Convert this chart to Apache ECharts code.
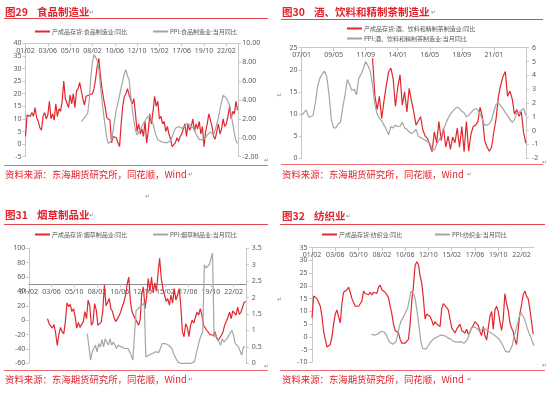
<!DOCTYPE html>
<html><head><meta charset="utf-8">
<script src="https://cdn.jsdelivr.net/npm/echarts@6/dist/echarts.min.js"></script>
<style>html,body{margin:0;padding:0;background:#fff}#c{width:550px;height:393px}</style>
</head><body><div id="c"></div>
<script>
// ---------- data (monthly categories, values sampled every 2 months) ----------
const titles = [['图29','食品制造业'],['图30','酒、饮料和精制茶制造业'],['图31','烟草制品业'],['图32','纺织业']];
const sourceText = '资料来源：东海期货研究所，同花顺，Wind';
const legendNames = [
  ['产成品存货:食品制造业:同比','PPI:食品制造业:当月同比'],
  ['产成品存货:酒、饮料和精制茶制造业:同比','PPI:酒、饮料和精制茶制造业:当月同比'],
  ['产成品存货:烟草制品业:同比','PPI:烟草制品业:当月同比'],
  ['产成品存货:纺织业:同比','PPI:纺织业:当月同比']
];
const catsStartA = [2001, 2], catsCountA = 268;   // 01/02 .. 23/05
const catsStartB = [2007, 1], catsCountB = 197;   // 07/01 .. 23/05
const stepMonths = 2;

// 图29
const foodInvStart = '01/02';
const foodInv = [3,11.5,12,11,12.5,11,14.5,10.5,9,6.5,
 5.5,11,12.5,10,11.5,17,10,12,9.5,16,
 11,14,13,17,25,18,17.5,14.5,19.5,16,
 20,14.5,21,22,24.5,21,18,15.5,19,19.5,
 19.5,20,20,22,26,31,34,27,22,18,
 14.5,10.5,10,9.5,0.5,3,3,2.5,0.5,-1,
 8,15,19,20,22,19.5,20,16,18,12,
 5,8,4,6,3,9,0.5,5,12,8,
 13,19,15,17,10,11,8,9,5,7,
 4,2,-1,-0.5,0.5,2.5,1,3,4,6,
 8,3,8,5.5,7,10,5,8,6,9,
 4,7,-1,5,8,12,12,7,3,2,
 5,8,4,6,10,7,8,11,15,10,
 13,12,17,13.5];
const foodPpiStart = '06/12';
const foodPpi = [1.7,1.9,2.1,2.3,2.6,4.0,6.5,8.0,8.8,8.9,
 8.2,7.3,5.5,4.0,2.5,1.2,0.0,-0.6,-0.7,-0.3,
 0.8,2.0,3.0,3.7,4.5,5.3,6.0,6.8,7.2,6.5,
 6.2,4.5,3.0,1.8,0.8,0.3,0.6,0.9,1.2,1.5,
 1.8,2.1,2.3,2.4,2.2,1.5,0.8,0.2,-0.2,-0.3,
 -0.4,-0.4,-0.5,-0.6,-0.5,-0.4,-0.3,0.1,0.6,1.0,
 1.2,1.2,1.1,1.0,0.9,1.2,1.5,1.6,1.4,1.3,
 1.1,0.8,0.4,0.1,-0.2,-0.3,-0.2,-0.1,0.0,0.3,
 0.5,0.6,0.4,0.3,0.8,1.5,2.1,3.0,3.8,4.5,
 4.6,4.2,4.1,3.5,2.5,1.5,0.5,-0.3,-0.6];

// 图30
const drinkInvStart = '12/03';
const drinkInv = [22.6,14.3,11,14,9,13,16.5,19.5,20.4,18,
 11.7,16,18.9,12,15,10.5,15.8,13,10.5,7.5,
 8.5,9.4,6.4,5,4.5,3,1.5,6,3.5,8.3,
 4,6.8,2.5,5,2,4.8,3.5,6.8,2.5,7.2,
 1.5,8.3,1.6,5.5,7.2,7.5,8.3,11.5,9.4,4,
 2.6,1.6,2.5,6,9,14,16.6,18.5,19.6,14,
 15.2,13.5,10,11,9.5,10.5,5.8,3.4];
const drinkPpiStart = '07/01';
const drinkPpi = [1.1,1.3,1.5,1.0,1.0,1.1,2.0,3.2,3.8,4.1,
 4.3,3.9,2.6,0.8,0.2,0.2,0.5,0.6,1.7,2.6,
 3.7,3.3,2.9,3.0,2.6,3.8,4.1,4.5,5.0,4.7,
 4.3,3.3,1.9,1.2,0.9,0.7,0.4,0.1,-0.3,0.3,
 0.2,0.4,0.3,0.3,0.6,0.2,0.1,-0.1,-0.2,-0.1,
 0.1,-0.4,-0.5,-0.6,-0.7,-0.8,-0.9,-1.3,-1.4,-1.0,
 -0.7,-0.4,0.1,0.5,0.9,1.2,1.4,1.6,1.7,1.6,
 1.4,1.3,1.0,1.1,1.3,1.5,1.6,1.5,1.2,0.8,
 0.4,0.4,0.5,0.8,1.4,1.9,2.0,1.8,1.6,1.3,
 1.1,0.8,0.6,0.8,1.3,1.3,1.5,1.6,1.1];

// 图31
const tobaccoInvStart = '03/01';
const tobaccoInv = [2,-5,-3,-11,-6,-18,-35,-20,-10,-16,
 -19,-2,24,19,22,12,16,5,-11,-3,
 -10,-8,-2,12,2,28,20,-7,-3,23,
 14,-7,-6,-3,12,49,20,25,30,16,
 12,3,-2,0,6,11,19,25,35,50,
 60,26,12,6,5,-2,-7,0,38,46,
 16,33,58,40,60,38,52,40,65,86,
 58,44,35,26,30,21,35,24,44,28,
 35,44,20,-16,-23,-5,-10,-23,-7,0,
 -4,4,11,7,16,7,-7,-5,-14,-16,
 -20,-22,-21,-16,-25,-28,-26,-21,-16,-7,
 -2,4,11,2,13,11,7,18,8,11,
 18,25,26];
const tobaccoPpiStart = '07/02';
const tobaccoPpi = [0.9,0.5,0.1,0.35,0.45,0.55,0.35,0.6,0.5,0.72,
 0.5,0.75,0.8,0.55,0.75,0.55,0.65,0.55,0.45,0.55,
 0.5,0.5,0.55,0.45,0.4,0.45,0.35,0.25,0.1,0.05,
 1.6,1.65,1.7,1.72,1.78,1.85,0.2,0.25,0.25,0.3,
 0.3,0.35,0.35,0.3,0.33,0.35,0.6,0.62,0.6,0.58,
 0.55,0.5,0.45,0.3,0.2,0.1,0.02,0,0,0,
 0,0,0,0,0,0,0.05,0.3,0.5,0.7,
 0.85,0.95,3.0,2.9,2.95,3.0,3.05,3.35,0.8,0.9,
 0.75,0.7,0.55,0.75,0.65,0.6,0.75,0.85,0.9,1.0,
 0.85,0.6,0.55,0.5,0.45,0.25,0.5,0.5];

// 图32
const textileInvStart = '01/02';
const textileInv = [7.5,16,15.5,15,13.5,12,8,2,-1,-4,
 -4.5,-3,0,5,9,10.5,11,5.5,13,17.5,
 17.5,18.5,19.5,17.5,15,13.5,12,11.5,12,11.5,
 14,18,17,17.5,16.5,17.5,16.5,17.5,18,17,
 19.5,20.3,18.5,18,17.5,16.5,15.5,12,9,5,
 2.5,2,1.5,-1,-2.5,-2.5,-2.5,-2.5,-1,5,
 14,20,28,29.5,28.5,24,21,15,7,9,
 8.5,8,6.5,4.5,6,5,5.5,4,11,13,
 12.5,11.5,10.5,7,3.5,3,1.5,3,3.5,5,
 2.5,2,1.5,3,1,2,3.5,4.5,6,5.8,
 4.5,2,0.5,4,0.5,-1.3,3.5,8,10,3,
 10.5,12,10,6,2.5,7,17,13,10.5,5.5,
 3.5,2,-1,-3,3,9,12.5,16.5,18,16,
 15,11,6,1];
const textilePpiStart = '07/01';
const textilePpi = [1,0.8,0.7,0.8,1.0,1.5,2.2,2.0,1.8,1.0,
 -0.6,-1.9,-2.5,-2.9,-2.8,-1.9,0.7,4,6,7.3,
 8.6,9.2,11.2,14.5,17.8,18.5,16.5,13,8.6,3.3,
 -1.9,-4.5,-5.2,-4.8,-3.9,-2.9,-1.9,-1.2,-0.6,-0.2,
 0,0.4,0.7,0.7,0.5,0.1,-0.3,-0.7,-1,-1.5,
 -1.9,-2.1,-2.1,-2.0,-1.9,-2.2,-2.5,-2.0,-1,1,
 3,3.8,4,3.6,3.1,2.4,2.2,3,3.3,3,
 2.6,2,1.6,1.2,0.6,0.2,-0.2,-0.9,-1.6,-3,
 -4.5,-5.7,-6.2,-6,-4.8,-3.2,0,2.5,5,7.5,
 9.5,9.3,7.5,5.5,3.3,1.5,0,-1.9,-3.5];

// axis settings
const yLeft  = [[-5,40,5],[0,25,5],[-60,100,20],[-10,35,5]];
const yRight = [[-2,10,2],[-2,6,1],[0,3.5,0.5]];
const xLabelEvery = 28;

// ---------- build ----------
function months(start, n){
  const out=[];
  for(let i=0;i<n;i++){
    const t=start[1]-1+i, y=start[0]+Math.floor(t/12), m=t%12+1;
    out.push(String(y%100).padStart(2,'0')+'/'+String(m).padStart(2,'0'));
  }
  return out;
}
const catsA = months(catsStartA, catsCountA);
const catsB = months(catsStartB, catsCountB);
function pts(cats, start, vals){
  const s = cats.indexOf(start);
  return vals.map((v,i)=>[s+i*stepMonths, v]);
}
const RED='#e0282e', GRAY='#a5a5a5', TXT='#595959', AX='#c8c8c8', TRED='#e3232b';
const FONT='"Noto Sans","Noto Sans CJK SC",sans-serif';
const CJK='"Noto Sans CJK SC",sans-serif';

const grids = [
  {left:25.5, top:43.3, width:212.8, height:113.4},
  {left:301.6, top:47.7, width:224.3, height:110.6},
  {left:28.8, top:248.3, width:217, height:115},
  {left:312, top:247.7, width:222, height:114.6}
];
function xAx(gi, cats, extra){
  const show = (i)=> i % xLabelEvery === 0 && i < cats.length - 10;
  return Object.assign({
    type:'category', gridIndex:gi, data:cats, boundaryGap:false, position:'top',
    axisLine:{show:true, onZero:false, lineStyle:{color:AX, width:1}},
    axisTick:{show:true, inside:true, length:3, interval:show, lineStyle:{color:AX}},
    axisLabel:{inside:true, interval:show, margin:4, fontSize:7, color:TXT, fontFamily:FONT},
    splitLine:{show:false}
  }, extra||{});
}
function yAx(gi, pos, r, margin, fmt){
  return {
    type:'value', gridIndex:gi, position:pos, min:r[0], max:r[1], interval:r[2],
    axisLine:{show:true, lineStyle:{color:AX}},
    axisTick:{show:true, length:3, lineStyle:{color:AX}},
    axisLabel:{fontSize:7, color:TXT, margin:margin, fontFamily:FONT, formatter:fmt},
    splitLine:{show:false}
  };
}
function line(name, xi, yi, data, color){
  return {name, type:'line', xAxisIndex:xi, yAxisIndex:yi, data, symbol:'none',
    lineStyle:{color, width:1.2}, itemStyle:{color}, animation:false, silent:true};
}
function leg(name, left, top){
  return {data:[name], left, top, padding:0, icon:'rect', itemWidth:15, itemHeight:2,
    itemGap:0, textStyle:{fontSize:6, color:TXT, fontFamily:CJK, padding:[0,0,0,-3]}, selectedMode:false};
}

const option = {
  animation:false,
  grid: grids,
  xAxis: [
    xAx(0, catsA), xAx(1, catsB), 
    xAx(2, catsA, {offset:-35.9, axisLine:{show:true,onZero:false,lineStyle:{color:'#8c8c8c',width:1}}}),
    xAx(3, catsA)
  ],
  yAxis: [
    yAx(0,'left',yLeft[0],4), yAx(0,'right',yRight[0],4,v=>v.toFixed(2)),
    yAx(1,'left',yLeft[1],4), yAx(1,'right',yRight[1],6),
    yAx(2,'left',yLeft[2],3.5), yAx(2,'right',yRight[2],6),
    yAx(3,'left',yLeft[3],4.5)
  ],
  legend: [
    leg(legendNames[0][0],35,28.5), leg(legendNames[0][1],153,28.5),
    leg(legendNames[1][0],347,25.5), leg(legendNames[1][1],347,35.5),
    leg(legendNames[2][0],35,231.5), leg(legendNames[2][1],153,231.5),
    leg(legendNames[3][0],322,231.5), leg(legendNames[3][1],435,231.5)
  ],
  series: [
    line(legendNames[0][0],0,0,pts(catsA,foodInvStart,foodInv),RED),
    line(legendNames[0][1],0,1,pts(catsA,foodPpiStart,foodPpi),GRAY),
    line(legendNames[1][0],1,2,pts(catsB,drinkInvStart,drinkInv),RED),
    line(legendNames[1][1],1,3,pts(catsB,drinkPpiStart,drinkPpi),GRAY),
    line(legendNames[2][0],2,4,pts(catsA,tobaccoInvStart,tobaccoInv),RED),
    line(legendNames[2][1],2,5,pts(catsA,tobaccoPpiStart,tobaccoPpi),GRAY),
    line(legendNames[3][0],3,6,pts(catsA,textileInvStart,textileInv),RED),
    line(legendNames[3][1],3,6,pts(catsA,textilePpiStart,textilePpi),GRAY)
  ],
  graphic: []
};

// titles, rules, sources
const panels = [
  {tx:5, nx:37, ty:12.5, rule:[4,268,18.5], src:[5,174], srcRule:165.5},
  {tx:282, nx:314, ty:12.5, rule:[281,543,19.5], src:[282,174], srcRule:164.5},
  {tx:5, nx:37, ty:215, rule:[4,268,224.5], src:[5,379], srcRule:370.5},
  {tx:282, nx:314, ty:216, rule:[280,545,224.5], src:[282,379], srcRule:370.5}
];
const g = option.graphic;
panels.forEach((p,i)=>{
  g.push({type:'text', x:p.tx, y:p.ty, style:{text:titles[i][0], fill:TRED, fontSize:10.5, fontWeight:'bold', fontFamily:CJK, verticalAlign:'middle'}});
  g.push({type:'text', x:p.nx, y:p.ty, style:{text:titles[i][1]+' ', fill:TRED, fontSize:10.5, fontWeight:'bold', fontFamily:CJK, verticalAlign:'middle'}});
  g.push({type:'line', shape:{x1:p.rule[0],y1:p.rule[2],x2:p.rule[1],y2:p.rule[2]}, style:{stroke:'#e8454a', lineWidth:1}});
  g.push({type:'line', shape:{x1:p.rule[0],y1:p.srcRule,x2:p.rule[1],y2:p.srcRule}, style:{stroke:'#ee6b73', lineWidth:1}});
  g.push({type:'text', x:p.src[0], y:p.src[1], style:{text:sourceText, fill:TRED, fontSize:9.4, fontFamily:CJK, verticalAlign:'middle'}});
});
const marks = [[89,12],[431,12],[89,215],[346,216],[188,174],[467,174],[188,379],[467,379],[264,160],[542,162],[264,366],[542,365],[277,95],[277,299],[145,196]];
marks.forEach(m=>g.push({type:'text', x:m[0], y:m[1], style:{text:'↵', fill:'#8a8a8a', fontSize:6, fontFamily:'DejaVu Sans', verticalAlign:'middle'}}));

const chart = echarts.init(document.getElementById('c'), null, {renderer:'canvas', width:550, height:393});
chart.setOption(option);
</script></body></html>
